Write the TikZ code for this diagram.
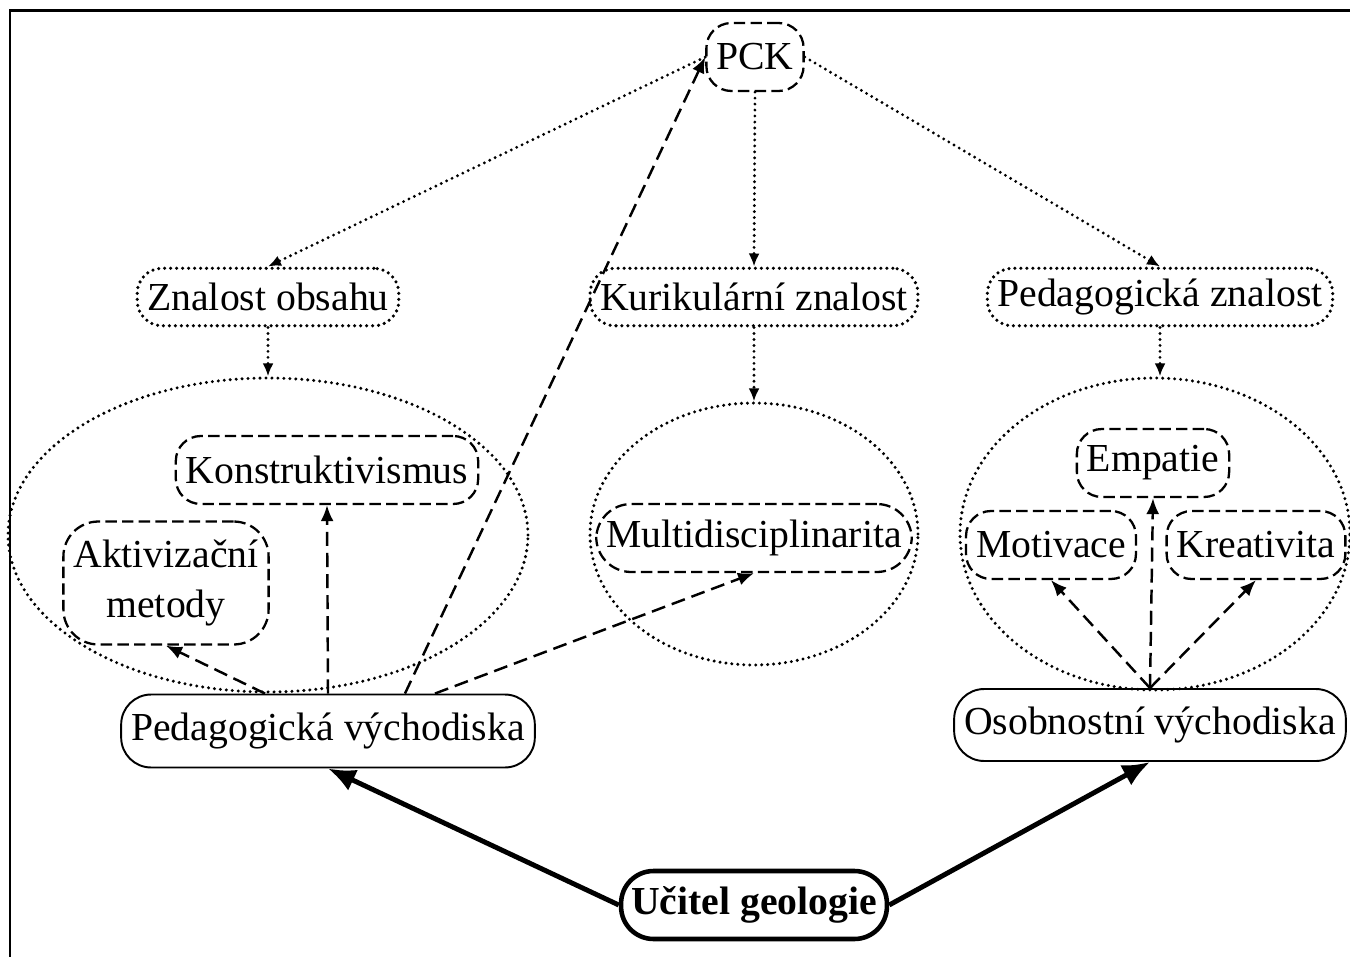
\documentclass[tikz,border=0pt]{standalone}
\usepackage{fontspec}
\setmainfont{Liberation Serif}
\usetikzlibrary{arrows.meta,shapes.geometric}

\tikzset{
	box/.style={rounded corners=5mm, minimum height=1.36cm, inner xsep=0.2cm, inner ysep=0pt, align=center, font=\fontsize{22.6}{28}\selectfont},
	dashbox/.style={box, draw, line width=1.3pt, dash pattern=on 6.5pt off 3pt},
	dotbox/.style={box, draw, minimum height=1.15cm, line width=2pt, line cap=round, dash pattern=on 0pt off 3.4pt},
	solidbox/.style={box, draw, line width=1.1pt, rounded corners=6mm},
	ring/.style={draw, ellipse, inner sep=0pt, line width=1.9pt, line cap=round, dash pattern=on 0pt off 3.4pt},
	dotarrow/.style={-{Latex[length=2.6mm,width=2.2mm]}, line width=1.8pt, line cap=round, dash pattern=on 0pt off 3.4pt},
	dasharrow/.style={-{Latex[length=3.2mm,width=2.6mm]}, line width=1.4pt, dash pattern=on 8pt off 4pt},
	thickarrow/.style={-{Latex[length=5.5mm,width=4.6mm]}, line width=2.8pt}
}

\begin{document}
\begin{tikzpicture}[x=0.02cm, y=-0.02cm]
	\useasboundingbox (0,0) rectangle (1350,957);
	\draw[line width=1.7pt] (10,970) -- (10,10.5) -- (1360,10.5);
	
	% rings
	\node[ring, minimum width=10.4cm, minimum height=6.28cm] (lring) at (268,535) {};
	\node[ring, minimum width=6.56cm, minimum height=5.24cm] (mring) at (754,534) {};
	\node[ring, minimum width=7.8cm, minimum height=6.24cm] (rring) at (1155,534) {};
	
	\node[dashbox] (pck) at (755,57) {PCK};
	\node[dotbox] (zo) at (268,297) {Znalost obsahu};
	\node[dotbox] (kz) at (754,297) {Kurikulární znalost};
	\node[dotbox] (pz) at (1160,297) {Pedagogická znalost};
	
	\node[dashbox] (ks) at (327,470) {Konstruktivismus};
	\node[dashbox, minimum height=2.46cm, rounded corners=7mm] (am) at (166,583) {Aktivizační\\metody};
	\node[dashbox, rounded corners=7mm] (md) at (754,538) {Multidisciplinarita};
	\node[dashbox] (emp) at (1153,463) {Empatie};
	\node[dashbox] (mot) at (1051,545) {Motivace};
	\node[dashbox] (kre) at (1256,545) {Kreativita};
	
	\node[solidbox, minimum height=1.46cm] (pv) at (328,731) {Pedagogická východiska};
	\node[solidbox, minimum height=1.44cm] (ov) at (1150,725) {Osobnostní východiska};
	\node[box, draw, line width=2.6pt, rounded corners=6.5mm, font=\fontsize{22.6}{28}\selectfont\bfseries] (ug) at (754,905) {Učitel geologie};
	
	\draw[dotarrow] (pck.west) -- (zo.north);
	\draw[dotarrow] (pck.south) -- (kz.north);
	\draw[dotarrow] (pck.east) -- (pz.north);
	\foreach \a/\b in {zo/lring, kz/mring, pz/rring}
		\draw[dotarrow] (\a.south) -- (\a.south |- \b.north);
	
	\draw[dasharrow] ([xshift=-1.26cm]pv.north) -- (am.south);
	\draw[dasharrow] (pv.north) -- (ks.south);
	\draw[dasharrow] ([xshift=1.54cm]pv.north) -- (pck.west);
	\draw[dasharrow] ([xshift=2.14cm]pv.north) -- (md.south);
	\foreach \t in {mot, emp, kre}
		\draw[dasharrow] (ov.north) -- (\t.south);
	
	\draw[thickarrow] (ug.west) -- (pv.south);
	\draw[thickarrow] (ug.east) -- (ov.south);
\end{tikzpicture}
\end{document}
